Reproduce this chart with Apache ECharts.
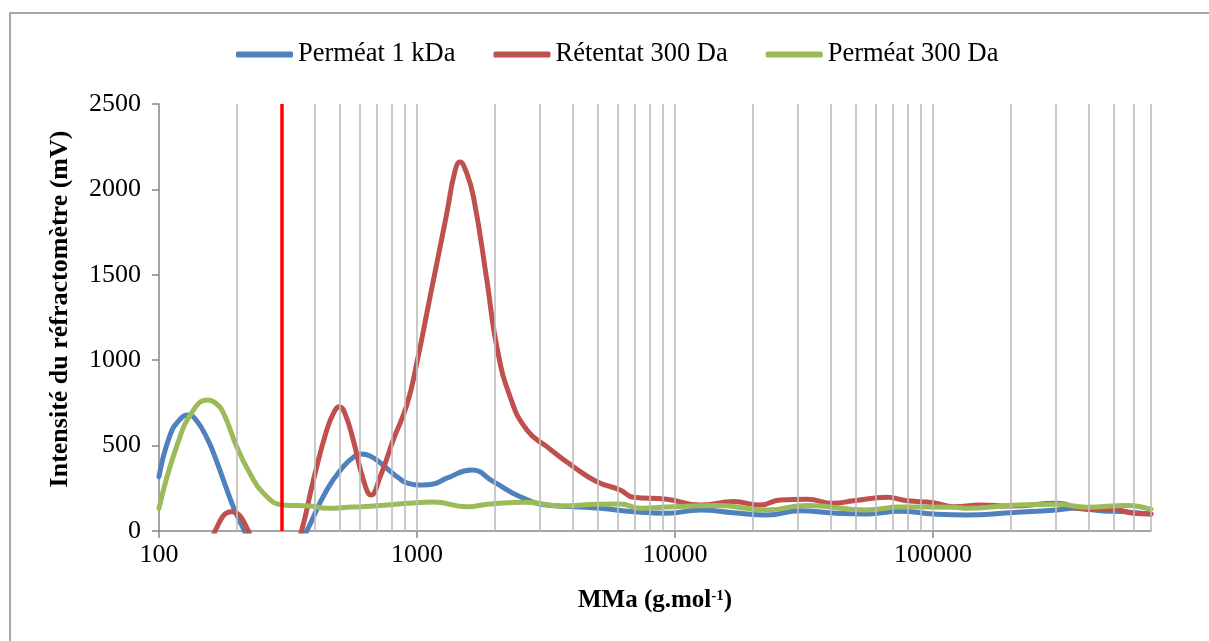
<!DOCTYPE html>
<html>
<head>
<meta charset="utf-8">
<script src="https://cdn.jsdelivr.net/npm/echarts@6/dist/echarts.min.js"></script>
<style>
html,body{margin:0;padding:0;background:#fff;}
#chart{width:1209px;height:641px;}
</style>
</head>
<body>
<div id="chart"></div>
<script>
// ---- data ----
const seriesNames = ['Perméat 1 kDa', 'Rétentat 300 Da', 'Perméat 300 Da'];

const massBlue = [100,110,120,130,140,155,167,180,194,212,240,300,340,374,447,518,570,611,660,720,780,850,913,1058,1158,1305,1631,1977,2511,3186,4040,5129,6905,9304,12530,16870,22720,30610,41170,55460,74670,100500,135500,199500,302700,350000,445300,560000,700000];
const intensityBlue = [318,555,650,679,645,530,410,275,142,16,-150,-250,-120,0,240,376,435,451,438,400,355,310,282,269,275,309,357,289,201,152,142,133,113,104,123,107,94,119,105,100,116,100,94,107,123,133,119,112,100];

const massRed = [140,165,191,222,260,300,330,357,397,447,480,500,525,566,620,664,720,809,913,998,1124,1305,1400,1469,1545,1655,1865,2039,2296,2667,3186,4040,4981,6134,6905,9304,12530,16870,21410,25590,32460,41170,49210,66370,79290,100500,120200,152500,199500,302700,395700,500300,598000,700000];
const intensityRed = [-300,0,113,0,-300,-350,-150,0,299,591,705,728,690,533,299,211,318,533,738,982,1372,1860,2100,2160,2110,1957,1470,1079,786,591,494,376,289,240,197,186,152,172,152,182,186,162,177,197,177,166,142,152,146,162,127,127,104,100];

const massGreen = [100,117,136,155,166,178,200,225,254,303,385,447,560,676,913,1158,1560,1920,2667,3589,4981,6134,7330,9862,14530,22720,32460,55460,74670,120200,135500,199500,302700,395700,565000,700000];
const intensityGreen = [133,494,708,767,748,689,494,338,221,152,146,133,140,146,162,170,142,158,168,146,156,158,133,142,150,123,150,123,140,139,133,150,156,139,150,127];

const xTickValues = [100, 1000, 10000, 100000];
const cutoffMass = 300;

// vertical grid lines at each integer multiple within each decade
const gridMasses = [];
[100, 1000, 10000, 100000].forEach(d => {
  for (let m = 1; m <= 9; m++) {
    const v = m * d;
    if (v > 100 && v <= 700000) gridMasses.push(v);
  }
});

const pairs = (xs, ys) => xs.map((x, i) => [x, ys[i]]);

const serif = '"Liberation Serif", "Times New Roman", serif';
const axisGray = '#868686';

const chart = echarts.init(document.getElementById('chart'), null, {renderer: 'canvas'});

const lineSeries = (name, data, color) => ({
  name, type: 'line', data,
  smooth: 0.5, showSymbol: false, symbol: 'none', clip: true, z: 3,
  lineStyle: {color, width: 5, cap: 'round', join: 'round'}, itemStyle: {color}
});

const option = {
  backgroundColor: '#ffffff',
  animation: false,
  grid: {left: 159, right: 58, top: 104, bottom: 110, containLabel: false},
  legend: {
    data: seriesNames,
    left: 231,
    top: 36,
    icon: 'roundRect',
    itemWidth: 57,
    itemHeight: 6,
    itemGap: 38,
    textStyle: {fontFamily: serif, fontSize: 26.5, color: '#000'}
  },
  xAxis: {
    type: 'log',
    logBase: 10,
    min: 100,
    max: 700000,
    axisLine: {show: true, lineStyle: {color: axisGray, width: 1.5}},
    axisTick: {show: true, inside: false, length: 7, customValues: xTickValues, lineStyle: {color: axisGray, width: 1.5}},
    axisLabel: {customValues: xTickValues, fontFamily: serif, fontSize: 26, color: '#000', margin: 11,
      formatter: v => String(Math.round(v))},
    splitLine: {show: false},
    minorTick: {show: false},
    minorSplitLine: {show: false}
  },
  yAxis: {
    type: 'value',
    min: 0,
    max: 2500,
    interval: 500,
    axisLine: {show: true, lineStyle: {color: axisGray, width: 1.5}},
    axisTick: {show: true, inside: false, length: 7, lineStyle: {color: axisGray, width: 1.5}},
    axisLabel: {fontFamily: serif, fontSize: 26, color: '#000', margin: 18,
      formatter: v => String(Math.round(v))},
    splitLine: {show: false}
  },
  graphic: [
    {type: 'rect', shape: {x: 10, y: 13, width: 1300, height: 800}, style: {fill: null, stroke: '#8c8c8c', lineWidth: 1.5}, silent: true, z: -10},
    {type: 'text', x: 60, y: 309, rotation: Math.PI / 2,
     style: {text: 'Intensité du réfractomètre (mV)', font: 'bold 26px ' + serif, fill: '#000', align: 'center', verticalAlign: 'middle'}},
    {type: 'text', x: 655, y: 601,
     style: {text: '{b|MMa (g.mol}{s|-1}{b|)}', align: 'center', verticalAlign: 'middle',
       rich: {b: {fontFamily: serif, fontWeight: 'bold', fontSize: 25, fill: '#000', color: '#000'},
              s: {fontFamily: serif, fontWeight: 'bold', fontSize: 15, fill: '#000', color: '#000', verticalAlign: 'top', padding: [0,0,10,0]}}}}
  ],
  series: [
    {
      name: 'grid', type: 'line', data: [], z: 1, silent: true,
      markLine: {
        silent: true, symbol: ['none', 'none'], label: {show: false},
        lineStyle: {color: '#bcbcbc', width: 1.6, type: 'solid'},
        data: gridMasses.map(v => ({xAxis: v}))
      }
    },
    lineSeries(seriesNames[0], pairs(massBlue, intensityBlue), '#4f81bd'),
    lineSeries(seriesNames[1], pairs(massRed, intensityRed), '#c0504d'),
    lineSeries(seriesNames[2], pairs(massGreen, intensityGreen), '#9bbb59'),
    {
      name: 'cutoff', type: 'line', data: [], z: 6, silent: true,
      markLine: {
        silent: true, symbol: ['none', 'none'], label: {show: false},
        lineStyle: {color: '#ff0000', width: 3.5, type: 'solid'},
        data: [{xAxis: cutoffMass}]
      }
    }
  ]
};
chart.setOption(option);
</script>
</body>
</html>
